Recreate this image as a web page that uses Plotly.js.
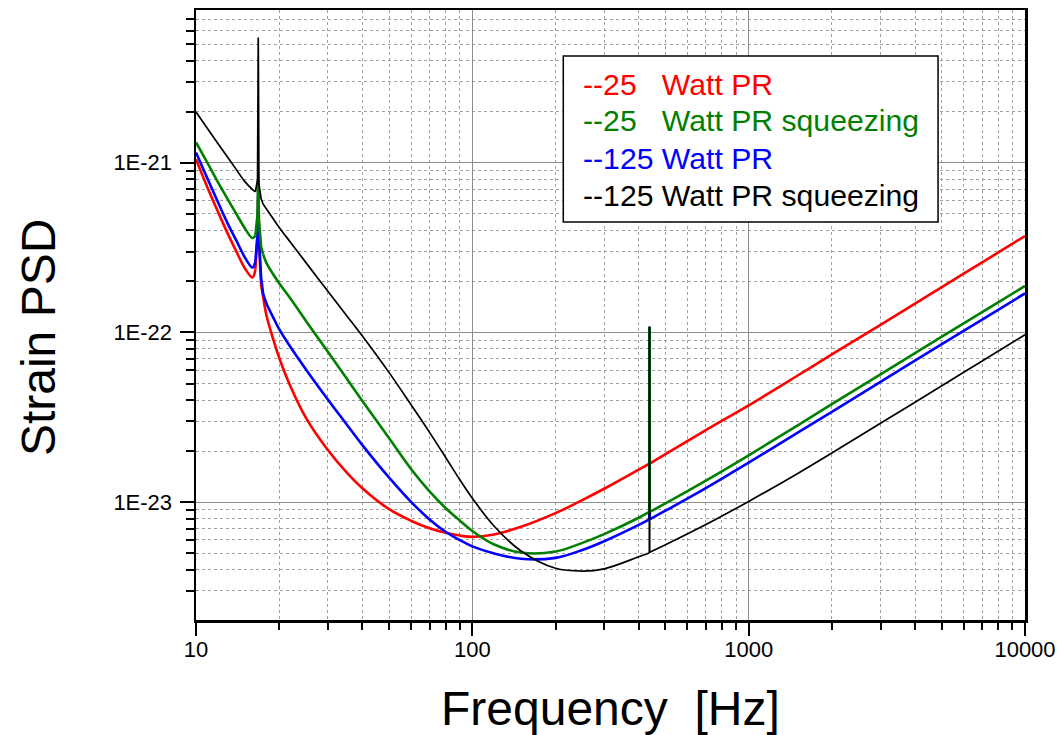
<!DOCTYPE html>
<html>
<head>
<meta charset="utf-8">
<script src="https://cdn.plot.ly/plotly-3.0.1.min.js"></script>
<style>
  html, body { margin: 0; padding: 0; background: #ffffff; }
  #chart { width: 1063px; height: 735px; }
</style>
</head>
<body>
<div id="chart"></div>
<script>
// Frequency grid [Hz]
const freq = [10, 11, 12, 13, 14, 15, 16, 16.4, 16.7, 16.8, 16.9, 17.2, 17.5, 18, 19, 20, 22, 25, 30, 35, 40,
  50, 60, 70, 80, 90, 100, 120, 150, 200, 250, 300, 400, 437, 437.7, 438.5, 500, 700, 1000, 1500, 2000,
  3000, 5000, 7000, 10000];

// Strain PSD values for each configuration
const psd25W = [1.05e-21, 7.16e-22, 5.16e-22, 3.85e-22, 3.0e-22, 2.4e-22, 2.11e-22, 2.35e-22, 3.78e-22, 6.96e-22,
  3.53e-22, 1.91e-22, 1.62e-22, 1.256e-22, 9.2e-23, 7.1e-23, 4.79e-23, 3.14e-23, 2.03e-23, 1.505e-23, 1.21e-23,
  9.1e-24, 7.78e-24, 7.02e-24, 6.6e-24, 6.36e-24, 6.25e-24, 6.46e-24, 7.16e-24, 8.62e-24, 1.029e-23,
  1.2e-23, 1.555e-23, 1.69e-23, 1.08e-22, 1.69e-23, 1.92e-23, 2.66e-23, 3.72e-23, 5.56e-23, 7.43e-23,
  1.11e-22, 1.85e-22, 2.59e-22, 3.7e-22];

const psd25WSqz = [1.32e-21, 9.97e-22, 7.7e-22, 6.12e-22, 4.99e-22, 4.13e-22, 3.6e-22, 3.73e-22, 4.95e-22, 7.97e-22,
  4.63e-22, 3.21e-22, 2.88e-22, 2.56e-22, 2.21e-22, 1.95e-22, 1.58e-22, 1.17e-22, 7.69e-23, 5.39e-23, 3.95e-23,
  2.38e-23, 1.57e-23, 1.16e-23, 9.25e-24, 7.81e-24, 6.77e-24, 5.63e-24, 5.05e-24, 5.12e-24, 5.76e-24,
  6.49e-24, 8.1e-24, 8.76e-24, 1.08e-22, 8.76e-24, 9.83e-24, 1.34e-23, 1.89e-23, 2.83e-23, 3.78e-23,
  5.66e-23, 9.44e-23, 1.32e-22, 1.88e-22];

const psd125W = [1.15e-21, 8.07e-22, 5.87e-22, 4.41e-22, 3.48e-22, 2.78e-22, 2.41e-22, 2.62e-22, 3.78e-22, 6.96e-22,
  3.53e-22, 2.11e-22, 1.69e-22, 1.479e-22, 1.231e-22, 1.046e-22, 8.18e-23, 6.06e-23, 4.03e-23, 2.89e-23, 2.17e-23,
  1.395e-23, 1.005e-23, 7.92e-24, 6.7e-24, 5.98e-24, 5.49e-24, 4.99e-24, 4.64e-24, 4.7e-24, 5.23e-24,
  5.89e-24, 7.35e-24, 7.93e-24, 1.08e-22, 7.93e-24, 8.91e-24, 1.21e-23, 1.71e-23, 2.56e-23, 3.41e-23,
  5.12e-23, 8.54e-23, 1.19e-22, 1.7e-22];

const psd125WSqz = [1.99e-21, 1.594e-21, 1.3e-21, 1.082e-21, 9.11e-22, 7.77e-22, 6.96e-22, 6.73e-22, 7.97e-22, 5.47e-21,
  7.45e-22, 6.16e-22, 5.7e-22, 5.34e-22, 4.69e-22, 4.16e-22, 3.39e-22, 2.58e-22, 1.75e-22, 1.265e-22, 9.54e-23,
  5.8e-23, 3.75e-23, 2.58e-23, 1.84e-23, 1.36e-23, 1.055e-23, 7.22e-24, 5.16e-24, 4.08e-24, 3.93e-24,
  4.05e-24, 4.77e-24, 5.02e-24, 1.08e-22, 5.07e-24, 5.61e-24, 7.38e-24, 1.011e-23, 1.473e-23, 1.95e-23,
  2.92e-23, 4.85e-23, 6.8e-23, 9.7e-23];

const seriesNames = ['--25   Watt PR', '--25   Watt PR squeezing', '--125 Watt PR', '--125 Watt PR squeezing'];
const xTickVals = [10, 100, 1000, 10000];
const xTickText = ['10', '100', '1000', '10000'];
const yTickVals = [1e-21, 1e-22, 1e-23];
const yTickText = ['1E-21', '1E-22', '1E-23'];

// styles
const seriesData = [psd25W, psd25WSqz, psd125W, psd125WSqz];
const colors = ['#ff0000', '#008000', '#0000ff', '#000000'];
const widths = [2.6, 2.6, 2.6, 1.7];
const drawOrder = [0, 2, 1, 3];   // red, blue, green, black (black on top)
const FONT = 'Liberation Sans, Arial, Helvetica, sans-serif';

// smooth stretches use splines; the two narrow resonances are drawn straight
const iRes0 = freq.indexOf(16.4), iRes1 = freq.indexOf(17.5);
const iVio0 = freq.indexOf(437), iVio1 = freq.indexOf(438.5);
const pieces = [
  { from: 0, to: iRes0, shape: 'spline' },
  { from: iRes0, to: iRes1, shape: 'linear' },
  { from: iRes1, to: iVio0, shape: 'spline' },
  { from: iVio0, to: iVio1, shape: 'linear' },
  { from: iVio1, to: freq.length - 1, shape: 'spline' }
];

const traces = [];
drawOrder.forEach((i) => {
  const ys = seriesData[i];
  pieces.forEach((p) => {
    traces.push({
      type: 'scatter',
      mode: 'lines',
      x: freq.slice(p.from, p.to + 1),
      y: ys.slice(p.from, p.to + 1),
      name: seriesNames[i],
      line: { color: colors[i], width: widths[i], shape: p.shape, smoothing: 1 },
      showlegend: false,
      hoverinfo: 'x+y+name'
    });
  });
});

// plot area in pixels: x 195.5..1025, y 10..620
const L = 195.5, R = 1025, T = 10, B = 620;
const px = (x) => (x - L) / (R - L);
const py = (y) => (B - y) / (B - T);

const legendLineY = [84, 121, 158, 195];
const annotations = seriesNames.map((n, i) => ({
  xref: 'paper', yref: 'paper',
  x: px(581), y: py(legendLineY[i]),
  xanchor: 'left', yanchor: 'middle',
  text: n.replace(/ /g, '\u00A0'),
  showarrow: false,
  font: { family: FONT, size: 30.2, color: colors[i] }
}));

annotations.push({
  xref: 'paper', yref: 'paper',
  x: px(610), y: py(708),
  xanchor: 'center', yanchor: 'middle',
  text: 'Frequency\u00A0\u00A0[Hz]',
  showarrow: false,
  font: { family: FONT, size: 48, color: '#000' }
});
annotations.push({
  xref: 'paper', yref: 'paper',
  x: px(38), y: py(337.5),
  xanchor: 'center', yanchor: 'middle',
  textangle: -90,
  text: 'Strain PSD',
  showarrow: false,
  font: { family: FONT, size: 48, color: '#000' }
});

const gridMajor = '#8c8c8c';
const gridMinor = '#a0a0a0';

const layout = {
  width: 1063, height: 735,
  margin: { l: L, r: 1063 - R, t: T, b: 735 - B, pad: 0 },
  paper_bgcolor: '#ffffff',
  plot_bgcolor: '#ffffff',
  showlegend: false,
  font: { family: FONT, color: '#000' },
  xaxis: {
    type: 'log',
    range: [1, 4],
    tickmode: 'array',
    tickvals: xTickVals,
    ticktext: xTickText,
    ticks: 'outside', ticklen: 13, tickwidth: 2, tickcolor: '#000',
    ticklabelstandoff: -5,
    tickfont: { family: FONT, size: 22, color: '#000' },
    showline: true, linecolor: '#000', linewidth: 2.5, mirror: true,
    showgrid: true, gridcolor: gridMajor, gridwidth: 1,
    zeroline: false,
    minor: { dtick: 'D1', ticks: 'outside', ticklen: 7, tickwidth: 2, tickcolor: '#000',
             showgrid: true, gridcolor: gridMinor, gridwidth: 1, griddash: 'dot' }
  },
  yaxis: {
    type: 'log',
    range: [-23.694, -20.1],
    tickmode: 'array',
    tickvals: yTickVals,
    ticktext: yTickText,
    ticks: 'outside', ticklen: 14, tickwidth: 2, tickcolor: '#000',
    ticklabelstandoff: 3,
    tickfont: { family: FONT, size: 22, color: '#000' },
    showline: true, linecolor: '#000', linewidth: 2.5, mirror: true,
    showgrid: true, gridcolor: gridMajor, gridwidth: 1,
    zeroline: false,
    minor: { dtick: 'D1', ticks: 'outside', ticklen: 8, tickwidth: 2, tickcolor: '#000',
             showgrid: true, gridcolor: gridMinor, gridwidth: 1, griddash: 'dot' }
  },
  shapes: [{
    type: 'rect', xref: 'paper', yref: 'paper', layer: 'above',
    x0: px(563), x1: px(938), y0: py(222), y1: py(56),
    fillcolor: '#ffffff', line: { color: '#000', width: 1.5 }
  }],
  annotations: annotations
};

Plotly.newPlot('chart', traces, layout, { displayModeBar: false, staticPlot: true });
</script>
</body>
</html>
